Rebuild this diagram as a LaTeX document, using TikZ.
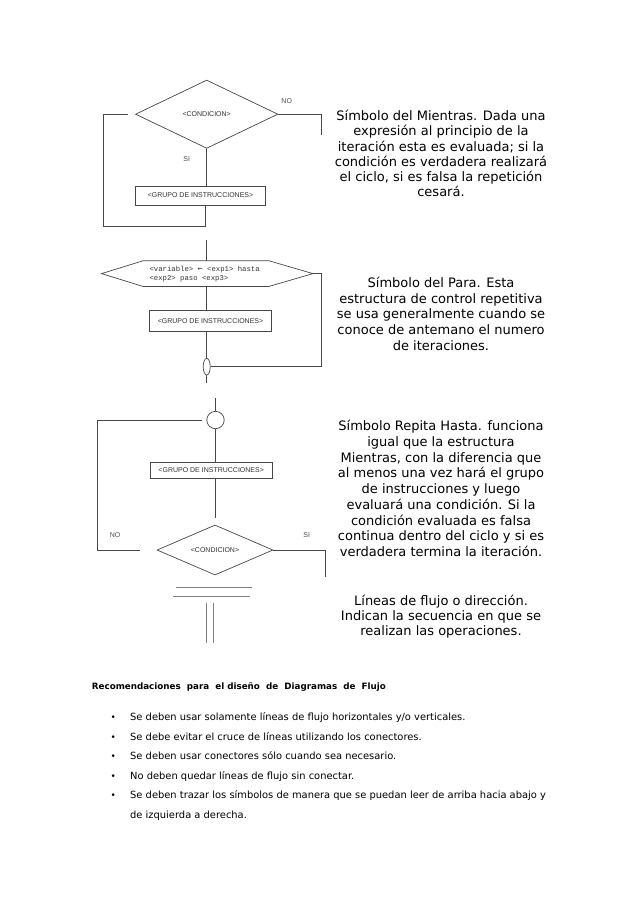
\documentclass[tikz,border=0pt]{standalone}
\usepackage{fontspec}
\usetikzlibrary{shapes.geometric}
\newfontfamily\dv{DejaVu Sans}
\newfontfamily\ls{Liberation Sans}
\newfontfamily\lm{Liberation Mono}
\newfontfamily\dvm{DejaVu Sans Mono}
\begin{document}
\begin{tikzpicture}[x=1pt,y=-1pt,
  fl/.style={draw=black!72, line width=0.7pt},
  boxnode/.style={rectangle, draw=black!72, line width=0.7pt, inner sep=0pt, text=black!80, font=\ls\fontsize{7}{8}\selectfont},
  dia/.style={diamond, draw=black!72, line width=0.7pt, inner sep=0pt, text=black!80, font=\ls\fontsize{7}{8}\selectfont},
  lab/.style={inner sep=0pt, text=black!70, font=\ls\fontsize{7}{8}\selectfont},
  rtxt/.style={inner sep=0pt, anchor=base, font=\dv\fontsize{13}{15}\selectfont},
  btxt/.style={inner sep=0pt, anchor=base west, font=\dv\fontsize{9.9}{12}\selectfont},
  dbl/.style={draw=black!50, line width=1.2pt}]
\fill[white] (0,0) rectangle (638,903);
\useasboundingbox (0,0) rectangle (638,903);

% ---------- Mientras ----------
\node[dia, minimum width=142.4pt, minimum height=68.3pt, shape aspect=2.08] (d1) at (206.7,114.2) {<CONDICION>};
\node[boxnode, minimum width=130.4pt, minimum height=19.3pt] (b1) at (200.5,195.5) {<GRUPO DE INSTRUCCIONES>};
\node[lab] (no1) at (286.7,100.7) {NO};
\node[lab] (si1) at (186.7,159) {SI};
\coordinate (l1a) at (205,226.7);
\coordinate (l1b) at (103.3,226.7);
\coordinate (l1c) at (103.3,114.2);
\coordinate (l1d) at (128,114.2);
\coordinate (r1a) at (321.7,114.2);
\coordinate (r1b) at (321.7,135);
\draw[fl] (d1.south) -- (d1.south |- b1.north);
\draw[fl] (l1a |- b1.south) -- (l1a) -- (l1b) -- (l1c) -- (l1d);
\draw[fl] (d1.east) -- (r1a) -- (r1b);

% ---------- Para ----------
\coordinate (t2) at (206.7,240);
\node[minimum width=211pt, minimum height=25.3pt, inner sep=0pt] (hx) at (207.2,273.6) {};
\draw[fl] (hx.west) -- ([xshift=41.6pt]hx.north west) -- ([xshift=-44pt]hx.north east) -- (hx.east)
  -- ([xshift=-44pt]hx.south east) -- ([xshift=41.6pt]hx.south west) -- cycle;
\node[inner sep=0pt, anchor=west, align=left, text=black!80, font=\lm\fontsize{7.3}{9}\selectfont] (ht) at (149.3,274)
  {<variable> {\dvm\fontsize{8.5}{9}\selectfont ←} <exp1> hasta\\<exp2> paso <exp3>};
\node[boxnode, minimum width=122.4pt, minimum height=21pt] (b2) at (210.5,321) {<GRUPO DE INSTRUCCIONES>};
\node[ellipse, draw=black!72, line width=0.7pt, minimum width=7pt, minimum height=16.7pt, inner sep=0pt] (e2) at (206.7,366.7) {};
\coordinate (bot2) at (206.7,383);
\coordinate (r2a) at (321.7,273.6);
\coordinate (r2b) at (321.7,366.7);
\draw[fl] (t2) -- (t2 |- hx.north);
\draw[fl] (t2 |- hx.south) -- (t2 |- b2.north);
\draw[fl] (t2 |- b2.south) -- (e2.north);
\draw[fl] (e2.south) -- (bot2);
\draw[fl] (hx.east) -- (r2a) -- (r2b) -- (e2.east);

% ---------- Repita Hasta ----------
\coordinate (t3) at (215.5,398);
\node[circle, draw=black!72, line width=0.7pt, minimum size=17.4pt, inner sep=0pt] (c3) at (215.5,420) {};
\node[boxnode, minimum width=122.3pt, minimum height=16pt] (b3) at (211.2,470) {<GRUPO DE INSTRUCCIONES>};
\node[dia, minimum width=116pt, minimum height=50pt, shape aspect=2.32] (d3) at (215,550) {<CONDICION>};
\node[lab] (no3) at (115,535) {NO};
\node[lab] (si3) at (306.7,535) {SI};
\coordinate (g3) at (215.5,518.3);
\coordinate (l3a) at (201.7,420);
\coordinate (l3b) at (97.3,420);
\coordinate (l3c) at (97.3,550);
\coordinate (l3d) at (140,550);
\coordinate (r3a) at (325,550);
\coordinate (r3b) at (325,576.7);
\draw[fl] (t3) -- (c3.north);
\draw[fl] (c3.south) -- (c3.south |- b3.north);
\draw[fl] (c3.south |- b3.south) -- (g3);
\draw[fl] (l3a) -- (l3b) -- (l3c) -- (l3d);
\draw[fl] (d3.east) -- (r3a) -- (r3b);

% ---------- Lineas de flujo ----------
\coordinate (h1a) at (176,587.3);
\coordinate (h1b) at (252.3,587.3);
\coordinate (h2a) at (173.3,596.7);
\coordinate (h2b) at (250,596.7);
\coordinate (v1a) at (206.7,602.7);
\coordinate (v1b) at (206.7,643.3);
\coordinate (v2a) at (213.3,602.7);
\coordinate (v2b) at (213.3,643.3);
\draw[dbl] (h1a) -- (h1b);
\draw[dbl] (h2a) -- (h2b);
\draw[dbl] (v1a) -- (v1b);
\draw[dbl] (v2a) -- (v2b);

% ---------- Right column texts ----------
\foreach \t [count=\i] in {{Símbolo del Mientras. Dada una},{expresión al principio de la},{iteración esta es evaluada; si la},{condición es verdadera realizará},{el ciclo, si es falsa la repetición},{cesará.}}
  \node[rtxt] (ta\i) at (441,{120.5+15.25*(\i-1)}) {\t};
\foreach \t [count=\i] in {{Símbolo del Para. Esta},{estructura de control repetitiva},{se usa generalmente cuando se},{conoce de antemano el numero},{de iteraciones.}}
  \node[rtxt] (tb\i) at (441,{287.5+15.7*(\i-1)}) {\t};
\foreach \t [count=\i] in {{Símbolo Repita Hasta. funciona},{igual que la estructura},{Mientras, con la diferencia que},{al menos una vez hará el grupo},{de instrucciones y luego},{evaluará una condición. Si la},{condición evaluada es falsa},{continua dentro del ciclo y si es},{verdadera termina la iteración.}}
  \node[rtxt] (tc\i) at (441,{430.7+15.75*(\i-1)}) {\t};
\foreach \t [count=\i] in {{Líneas de flujo o dirección.},{Indican la secuencia en que se},{realizan las operaciones.}}
  \node[rtxt] (td\i) at (441,{605.7+15*(\i-1)}) {\t};

% ---------- Recomendaciones ----------
\node[inner sep=0pt, anchor=base west, font=\dv\bfseries\fontsize{8.75}{11}\selectfont] (hd) at (91.7,689.5)
  {Recomendaciones\ \ para\ \ el diseño\ \ de\ \ Diagramas\ \ de\ \ Flujo};
\foreach \t [count=\i] in {{Se deben usar solamente líneas de flujo horizontales y/o verticales.},{Se debe evitar el cruce de líneas utilizando los conectores.},{Se deben usar conectores sólo cuando sea necesario.},{No deben quedar líneas de flujo sin conectar.},{Se deben trazar los símbolos de manera que se puedan leer de arriba hacia abajo y}}
{
  \node[inner sep=0pt, anchor=base, font=\dv\fontsize{9}{11}\selectfont] (bu\i) at (113.3,{720.5+19.5*(\i-1)}) {•};
  \node[btxt] (bl\i) at (130,{720.5+19.5*(\i-1)}) {\t};
}
\node[btxt] (bl6) at (130,{720.5+19.5*5}) {de izquierda a derecha.};
\end{tikzpicture}
\end{document}
